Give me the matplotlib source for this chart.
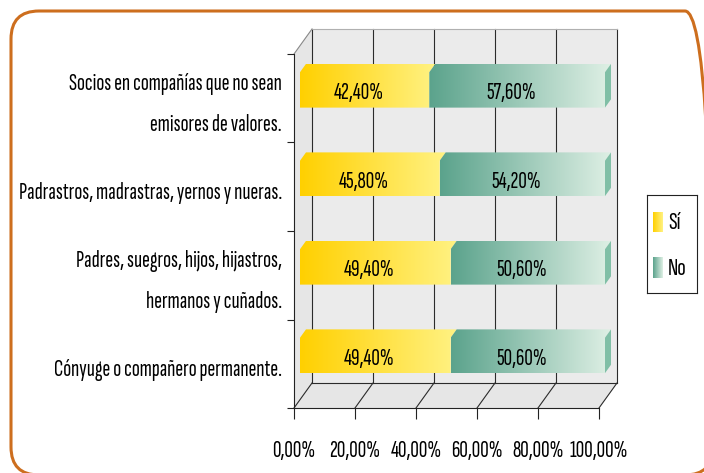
import matplotlib.pyplot as plt
import numpy as np
from matplotlib.patches import Polygon, Rectangle, FancyBboxPatch
from matplotlib.colors import LinearSegmentedColormap

plt.rcParams['font.family'] = ['Sofia Sans Extra Condensed', 'Roboto Condensed',
                               'Liberation Sans', 'DejaVu Sans']

# data (bottom to top)
categories = ["Cónyuge o compañero permanente.",
              "Padres, suegros, hijos, hijastros,\nhermanos y cuñados.",
              "Padrastros, madrastras, yernos y nueras.",
              "Socios en compañías que no sean\nemisores de valores."]
series = ["Sí", "No"]
si = [49.4, 49.4, 45.8, 42.4]
no = [50.6, 50.6, 54.2, 57.6]
xticks = [0, 20, 40, 60, 80, 100]
xticklabels = ["0,00%", "20,00%", "40,00%", "60,00%", "80,00%", "100,00%"]

grad = {"Sí": ("#ffd000", "#fff283"), "No": ("#5ba38c", "#dff0e5")}
endcap = "#80bfa6"
fs = 17

fig = plt.figure(figsize=(7.04, 4.73), dpi=100)
W, H = 704, 473
ax_l, ax_r, ax_t, ax_b = 294, 599, 54, 408
ax = fig.add_axes([ax_l / W, 1 - ax_b / H, (ax_r - ax_l) / W, (ax_b - ax_t) / H])
ax.patch.set_visible(False)
n = len(categories)

# depth of the 3d box in data units
px_x = 100 / (ax_r - ax_l)
px_y = n / (ax_b - ax_t)
DX, DY = 18 * px_x, 25 * px_y

# back wall, floor, side wall
ax.add_patch(Rectangle((DX, DY), 100, n, facecolor="#ebebeb", edgecolor="none",
                       zorder=0, clip_on=False))
ax.add_patch(Polygon([(0, 0), (100, 0), (100 + DX, DY), (DX, DY)], facecolor="#e6e6e6",
                     edgecolor="none", zorder=0, clip_on=False))
ax.add_patch(Polygon([(0, 0), (0, n), (DX, n + DY), (DX, DY)], facecolor="#e6e6e6",
                     edgecolor="none", zorder=0, clip_on=False))
for t in xticks:
    ax.plot([t + DX, t + DX], [DY, n + DY], color="#2b2b2b", lw=0.8, zorder=1, clip_on=False)
    ax.plot([t, t + DX], [0, DY], color="#2b2b2b", lw=0.8, zorder=1, clip_on=False)
ax.plot([DX, 100 + DX], [DY, DY], color="#2b2b2b", lw=0.8, zorder=1, clip_on=False)
ax.plot([DX, 100 + DX], [n + DY, n + DY], color="#b0b0b0", lw=0.8, zorder=1, clip_on=False)
ax.plot([0, DX], [n, n + DY], color="#888888", lw=0.8, zorder=1, clip_on=False)

# bars
bh = 0.2
d, e = DX / 3, DY / 3
ramp = np.linspace(0, 1, 256).reshape(1, -1)
for i in range(n):
    left = 0
    for name, vals in zip(series, [si, no]):
        v = vals[i]
        x0, x1 = left + d, left + v + d
        y0, y1 = i + 0.5 - bh + e, i + 0.5 + bh + e
        cmap = LinearSegmentedColormap.from_list(name, grad[name])
        outline = Polygon([(x0, y0), (x1, y0), (x1, y1), (x1 + d, y1 + e),
                           (x0 + d, y1 + e), (x0, y1)], closed=True,
                          facecolor="none", edgecolor="none", clip_on=False)
        ax.add_patch(outline)
        im = ax.imshow(ramp, cmap=cmap, extent=[x0, x1 + d, y0, y1 + e],
                       aspect="auto", zorder=3, interpolation="bilinear")
        im.set_clip_box(fig.bbox)
        im.set_clip_path(outline)
        if name == series[-1]:
            ax.add_patch(Polygon([(x1, y0), (x1 + d, y0 + e), (x1 + d, y1 + e), (x1, y1)],
                                 facecolor=endcap, edgecolor="none", zorder=3, clip_on=False))
        lbl = f"{v:.2f}".replace(".", ",") + "%"
        ax.text(left + v / 2, i + 0.5 + 5 * px_y, lbl, ha="center", va="center",
                fontsize=fs, zorder=4)
        left += v

ax.set_xlim(0, 100)
ax.set_ylim(0, n)

# category labels
for i, cat in enumerate(categories):
    lines = cat.split("\n")
    yc = i + 0.5 - 6 * px_y
    offs = [0] if len(lines) == 1 else [20.5, -20.5]
    for line, o in zip(lines, offs):
        ax.text(-12 * px_x, yc + o * px_y, line, ha="right", va="center", fontsize=fs)

# axes
for s in ["top", "right"]:
    ax.spines[s].set_visible(False)
ax.spines["left"].set_color("#222222")
ax.spines["bottom"].set_color("#222222")
ax.set_xticks(xticks)
ax.set_xticklabels(xticklabels, fontsize=fs)
ax.set_yticks(range(n + 1))
ax.set_yticklabels([])
ax.tick_params(axis="x", length=8, pad=15, color="#222222")
ax.tick_params(axis="y", length=5, color="#222222")

# legend
lax = fig.add_axes([647 / W, 1 - 293 / H, 50 / W, 98 / H])
for s in lax.spines.values():
    s.set_color("#222222")
    s.set_linewidth(0.8)
for k, name in enumerate(series):
    y0 = 17 + k * 46
    cmap = LinearSegmentedColormap.from_list(name, grad[name])
    lax.imshow(ramp, cmap=cmap, extent=[6, 16, y0 + 20, y0], aspect="auto")
    lax.text(21, y0 + 11, name, va="center", ha="left", fontsize=fs + 1)
lax.set_xlim(0, 50)
lax.set_ylim(98, 0)
lax.set_xticks([])
lax.set_yticks([])

# rounded orange frame
frame = FancyBboxPatch((0.11, -0.02), 7.02, 4.64,
                       boxstyle="round,pad=0,rounding_size=0.28",
                       transform=fig.dpi_scale_trans, facecolor="none",
                       edgecolor="#cd6e1e", linewidth=2.2)
fig.patches.append(frame)

fig.savefig("out.png", dpi=100)
